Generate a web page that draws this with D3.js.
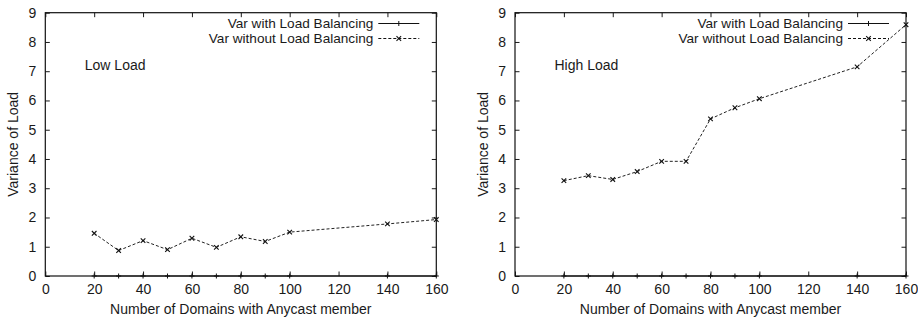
<!DOCTYPE html>
<html>
<head>
<meta charset="utf-8">
<script src="https://cdn.jsdelivr.net/npm/d3@7"></script>
<style>
  body { margin: 0; background: #fff; }
  svg text { font-family: "Liberation Sans", Arial, sans-serif; fill: #1a1a1a; }
  .axis path { display: none; }
  .axis line { stroke: #1a1a1a; }
</style>
</head>
<body>
<div id="chart"></div>
<script>
// data
const domains = [20, 30, 40, 50, 60, 70, 80, 90, 100, 140, 160];
const lowWithLB = [0, 0, 0, 0, 0, 0, 0, 0, 0, 0, 0];
const lowWithoutLB = [1.46, 0.87, 1.21, 0.90, 1.29, 0.98, 1.34, 1.18, 1.50, 1.78, 1.93];
const highWithLB = [0, 0, 0, 0, 0, 0, 0, 0, 0, 0, 0];
const highWithoutLB = [3.26, 3.43, 3.30, 3.57, 3.92, 3.92, 5.37, 5.75, 6.06, 7.15, 8.59];
const xTicks = [0, 20, 40, 60, 80, 100, 120, 140, 160];
const yTicks = [0, 1, 2, 3, 4, 5, 6, 7, 8, 9];
const seriesNames = ['Var with Load Balancing', 'Var without Load Balancing'];
const xTitle = 'Number of Domains with Anycast member';
const yTitle = 'Variance of Load';

const W = 918, H = 323;
const fs = 14;
const svg = d3.select('#chart').append('svg')
  .attr('width', W)
  .attr('height', H);

function drawPanel(left, label, withVals, withoutVals) {
  const top = 12.7, bottom = 276, width = 391;
  const g = svg.append('g');

  const x = d3.scaleLinear().domain([0, 160]).range([left, left + width]);
  const y = d3.scaleLinear().domain([0, 9]).range([bottom, top]);

  // axes with inward ticks (mirrored)
  g.append('g').attr('class', 'axis')
    .attr('transform', 'translate(0,' + bottom + ')')
    .call(d3.axisBottom(x).tickValues(xTicks).tickSize(-4.5).tickPadding(8))
    .selectAll('text').attr('font-size', fs);
  g.append('g').attr('class', 'axis')
    .attr('transform', 'translate(0,' + top + ')')
    .call(d3.axisTop(x).tickValues(xTicks).tickSize(-4.5).tickFormat(''));
  g.append('g').attr('class', 'axis')
    .attr('transform', 'translate(' + left + ',0)')
    .call(d3.axisLeft(y).tickValues(yTicks).tickSize(-4.5).tickPadding(9))
    .selectAll('text').attr('font-size', fs);
  g.append('g').attr('class', 'axis')
    .attr('transform', 'translate(' + (left + width) + ',0)')
    .call(d3.axisRight(y).tickValues(yTicks).tickSize(-4.5).tickFormat(''));

  g.append('rect')
    .attr('x', left).attr('y', top)
    .attr('width', width).attr('height', bottom - top)
    .attr('fill', 'none').attr('stroke', '#111').attr('stroke-width', 1.2);

  // titles
  g.append('text')
    .attr('x', x(80)).attr('y', 314)
    .attr('text-anchor', 'middle').attr('font-size', fs)
    .text(xTitle);
  g.append('text')
    .attr('transform', 'translate(' + (left - 27) + ',' + y(4.5) + ') rotate(-90)')
    .attr('text-anchor', 'middle').attr('font-size', fs)
    .text(yTitle);
  g.append('text')
    .attr('x', left + 39.5).attr('y', 70)
    .attr('font-size', fs)
    .text(label);

  const line = d3.line().x(d => x(d[0])).y(d => y(d[1]));
  const withPts = domains.map((d, i) => [d, withVals[i]]);
  const withoutPts = domains.map((d, i) => [d, withoutVals[i]]);

  g.append('path').datum(withPts)
    .attr('d', line).attr('fill', 'none')
    .attr('stroke', '#111').attr('stroke-width', 1);
  g.append('path').datum(withoutPts)
    .attr('d', line).attr('fill', 'none')
    .attr('stroke', '#222').attr('stroke-width', 1)
    .attr('stroke-dasharray', '3,2');

  const plus = (sel, cx, cy) => sel.append('path')
    .attr('d', 'M' + (cx - 2.5) + ',' + cy + 'h5M' + cx + ',' + (cy - 2.5) + 'v5')
    .attr('stroke', '#111').attr('stroke-width', 1);
  const cross = (sel, cx, cy) => sel.append('path')
    .attr('d', 'M' + (cx - 2.3) + ',' + (cy - 2.3) + 'l4.6,4.6M' + (cx - 2.3) + ',' + (cy + 2.3) + 'l4.6,-4.6')
    .attr('stroke', '#111').attr('stroke-width', 1.1);

  withPts.forEach(p => plus(g, x(p[0]), y(p[1])));
  withoutPts.forEach(p => cross(g, x(p[0]), y(p[1])));

  // legend
  const lx0 = left + width - 58, lx1 = left + width - 17;
  const ly = [23.5, 38.5];
  seriesNames.forEach((name, i) => {
    g.append('text')
      .attr('x', lx0 - 5).attr('y', ly[i]).attr('dy', '0.35em')
      .attr('text-anchor', 'end').attr('font-size', 13.6)
      .text(name);
    g.append('line')
      .attr('x1', lx0).attr('x2', lx1).attr('y1', ly[i]).attr('y2', ly[i])
      .attr('stroke', '#111').attr('stroke-width', 1)
      .attr('stroke-dasharray', i === 1 ? '3,2' : null);
    if (i === 0) plus(g, (lx0 + lx1) / 2, ly[i]);
    else cross(g, (lx0 + lx1) / 2, ly[i]);
  });
}

drawPanel(45.3, 'Low Load', lowWithLB, lowWithoutLB);
drawPanel(515, 'High Load', highWithLB, highWithoutLB);
</script>
</body>
</html>
